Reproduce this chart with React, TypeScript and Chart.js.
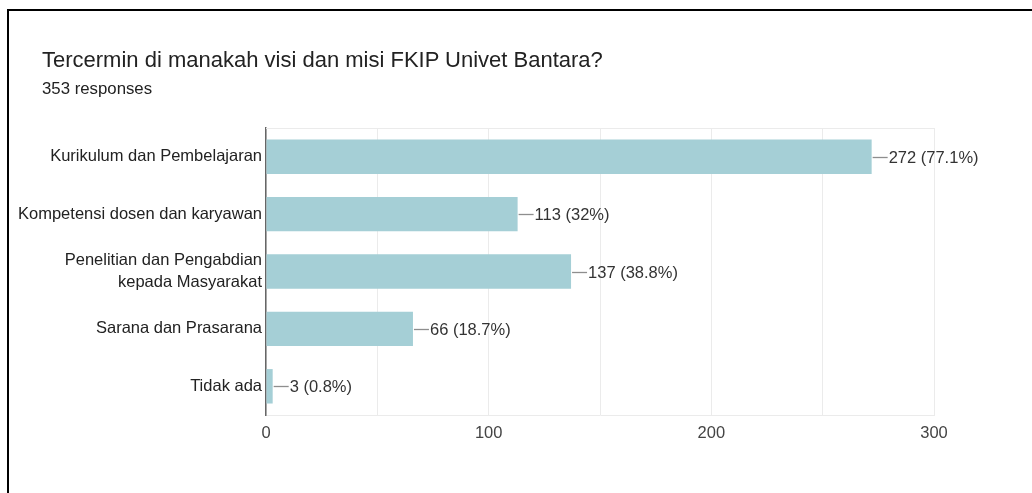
import React, { useEffect, useRef } from "react";
import { Chart, registerables } from "chart.js";

Chart.register(...registerables);

const categories: (string | string[])[] = [
  "Kurikulum dan Pembelajaran",
  "Kompetensi dosen dan karyawan",
  ["Penelitian dan Pengabdian", "kepada Masyarakat"],
  "Sarana dan Prasarana",
  "Tidak ada",
];
const counts = [272, 113, 137, 66, 3];
const percents = ["77.1%", "32%", "38.8%", "18.7%", "0.8%"];
const xTickLabels = [0, 100, 200, 300];

const TITLE = "Tercermin di manakah visi dan misi FKIP Univet Bantara?";
const SUBTITLE = "353 responses";

const LABEL_FONT = "'Liberation Sans', Arial, sans-serif";

const valueLabelPlugin = {
  id: "valueLabels",
  beforeDatasetsDraw(chart: any) {
    const { ctx, chartArea } = chart;
    ctx.save();
    ctx.strokeStyle = "#ebebeb";
    ctx.lineWidth = 1;
    ctx.beginPath();
    ctx.moveTo(chartArea.left, chartArea.top + 0.5);
    ctx.lineTo(chartArea.right, chartArea.top + 0.5);
    ctx.stroke();
    ctx.restore();
  },
  afterDatasetsDraw(chart: any) {
    const { ctx } = chart;
    const meta = chart.getDatasetMeta(0);
    ctx.save();
    ctx.font = `16.5px ${LABEL_FONT}`;
    ctx.textBaseline = "middle";
    ctx.textAlign = "left";
    meta.data.forEach((bar: any, i: number) => {
      const x = bar.x;
      const y = Math.round(bar.y) + 0.5;
      ctx.strokeStyle = "#8e8e8e";
      ctx.lineWidth = 1.3;
      ctx.beginPath();
      ctx.moveTo(x + 1, y);
      ctx.lineTo(x + 16, y);
      ctx.stroke();
      ctx.fillStyle = "#333333";
      ctx.fillText(`${counts[i]} (${percents[i]})`, x + 17, y + 0.5);
    });
    ctx.restore();
  },
};

export default function App() {
  const canvasRef = useRef<HTMLCanvasElement | null>(null);

  useEffect(() => {
    if (!canvasRef.current) return;
    const chart = new Chart(canvasRef.current, {
      type: "bar",
      data: {
        labels: categories,
        datasets: [
          {
            data: counts,
            backgroundColor: "#a5cfd6",
            borderWidth: 0,
            categoryPercentage: 1,
            barPercentage: 0.6,
          },
        ],
      },
      options: {
        indexAxis: "y",
        responsive: false,
        animation: false,
        devicePixelRatio: 1,
        layout: { padding: { left: 0, top: 128, right: 98, bottom: 0 } },
        plugins: {
          legend: { display: false },
          tooltip: { enabled: false },
          title: { display: false },
        },
        scales: {
          x: {
            min: 0,
            max: 300,
            grid: { color: "#ebebeb", drawTicks: false, lineWidth: 1 },
            border: { display: true, color: "#ebebeb" },
            ticks: {
              stepSize: 50,
              autoSkip: false,
              maxRotation: 0,
              padding: 9,
              color: "#444444",
              font: { family: LABEL_FONT, size: 16.5 },
              callback: (v: any) =>
                xTickLabels.includes(Number(v)) ? String(v) : "",
            },
            afterFit: (scale: any) => {
              scale.height = 78;
            },
          },
          y: {
            grid: { display: false, drawTicks: false },
            border: { display: true, color: "#666666", width: 1.5 },
            ticks: {
              padding: 4,
              color: "#222222",
              font: { family: LABEL_FONT, size: 16.5, lineHeight: 1.33 },
            },
            afterFit: (scale: any) => {
              scale.width = 266;
            },
          },
        },
      },
      plugins: [valueLabelPlugin],
    });
    return () => chart.destroy();
  }, []);

  return (
    <div
      style={{
        position: "fixed",
        left: 0,
        top: 0,
        width: 1032,
        height: 493,
        background: "#ffffff",
        overflow: "hidden",
      }}
    >
      <canvas
        ref={canvasRef}
        width={1032}
        height={493}
        style={{ position: "absolute", left: 0, top: 0, width: 1032, height: 493 }}
      />
      <div
        style={{
          position: "absolute",
          left: 7,
          top: 9,
          width: 1040,
          height: 500,
          borderTop: "2px solid #000",
          borderLeft: "2px solid #000",
          pointerEvents: "none",
        }}
      />
      <div
        style={{
          position: "absolute",
          left: 42,
          top: 48,
          fontFamily: "'Liberation Sans', Arial, sans-serif",
          fontSize: 22,
          lineHeight: "24px",
          color: "#222222",
          whiteSpace: "nowrap",
        }}
      >
        {TITLE}
      </div>
      <div
        style={{
          position: "absolute",
          left: 42,
          top: 79,
          fontFamily: "'Liberation Sans', Arial, sans-serif",
          fontSize: 16.8,
          lineHeight: "20px",
          color: "#222222",
          whiteSpace: "nowrap",
        }}
      >
        {SUBTITLE}
      </div>
    </div>
  );
}
